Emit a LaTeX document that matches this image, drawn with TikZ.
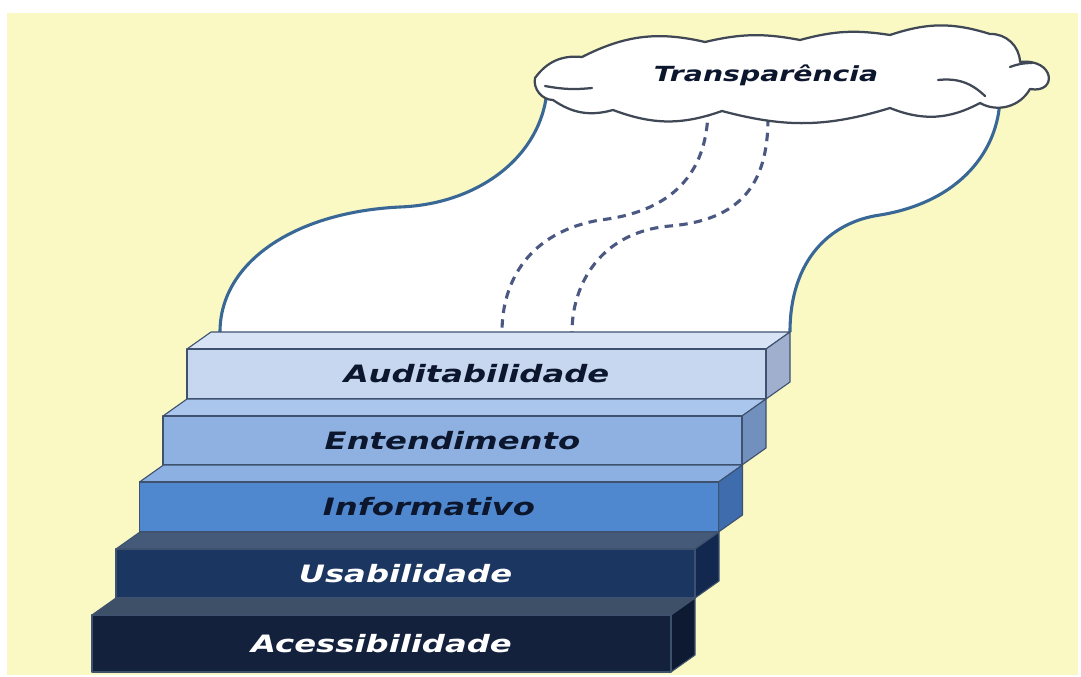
\documentclass[tikz,border=0pt]{standalone}
\usepackage{fontspec}
\setmainfont{DejaVu Sans}
\usepackage{graphicx}
\usepackage{xcolor}
\usepackage{tikz}

\definecolor{fundo}{RGB}{250,249,195}
\definecolor{contorno}{RGB}{62,82,112}
\definecolor{corfita}{RGB}{58,104,150}
\definecolor{cortracej}{RGB}{74,88,130}
\definecolor{cornuvem}{RGB}{64,72,86}
\definecolor{textoesc}{RGB}{12,22,45}
\definecolor{acessF}{RGB}{19,33,61}
\definecolor{acessT}{RGB}{62,79,104}
\definecolor{acessS}{RGB}{14,26,50}
\definecolor{usabF}{RGB}{27,54,97}
\definecolor{usabT}{RGB}{69,89,120}
\definecolor{usabS}{RGB}{18,40,78}
\definecolor{infoF}{RGB}{80,136,208}
\definecolor{infoT}{RGB}{140,176,226}
\definecolor{infoS}{RGB}{62,108,172}
\definecolor{entenF}{RGB}{143,177,225}
\definecolor{entenT}{RGB}{170,198,236}
\definecolor{entenS}{RGB}{114,144,190}
\definecolor{auditF}{RGB}{199,215,240}
\definecolor{auditT}{RGB}{216,228,246}
\definecolor{auditS}{RGB}{160,175,205}

% name, left x, front top y, front bottom y, front/top/side colours, text colour, label
\newcommand{\degrau}[9]{%
  \filldraw[face, fill=#6] (#2,#3) -- ++(24,-17) -- ++(579,0) -- ++(-24,17) -- cycle;
  \filldraw[face, fill=#7] (#2+579,#3) -- ++(24,-17) -- ++(0,#4-#3) -- ++(-24,17) -- cycle;
  \filldraw[face, fill=#5] (#2,#3) rectangle (#2+579,#4);
  \node[rotulo, text=#8] (#1) at (#2+289.5,{(#3+#4)/2}) {\scalebox{1.35}[1]{#9}};
}

\begin{document}
\begin{tikzpicture}[x=0.025cm, y=-0.025cm,
      face/.style={draw=contorno, line width=0.8pt, line join=round},
      rotulo/.style={font=\fontsize{17}{20}\selectfont\bfseries\itshape, inner sep=0pt},
      nuvem/.style={draw=cornuvem, line width=1.6pt, line join=round, line cap=round},
      fita/.style={draw=corfita, line width=2.2pt},
      tracej/.style={draw=cortracej, line width=2.2pt, dash pattern=on 6pt off 4.5pt}
  ]
    \fill[white] (0,0) rectangle (1081,677);
    \fill[fundo] (7,13) rectangle (1078,675);

    \coordinate (degE) at (220,332);
    \coordinate (degD) at (790,332);
    \coordinate (nuvE) at (547,90);
    \coordinate (nuvD) at (1000,95);
    \coordinate (t1a) at (708,108);
    \coordinate (t1b) at (502,332);
    \coordinate (t2a) at (768,118);
    \coordinate (t2b) at (572,332);

    \fill[white] (degE) .. controls (220,262) and (295,212) .. (400,207)
      .. controls (480,204) and (542,155) .. (nuvE) -- (nuvD)
      .. controls (1000,150) and (960,202) .. (880,215)
      .. controls (830,222) and (790,260) .. (degD) -- cycle;
    \draw[fita] (degE) .. controls (220,262) and (295,212) .. (400,207)
      .. controls (480,204) and (542,155) .. (nuvE);
    \draw[fita] (degD) .. controls (790,260) and (830,222) .. (880,215)
      .. controls (960,202) and (1000,150) .. (nuvD);

    \draw[tracej] (t1a) .. controls (708,175) and (670,212) .. (600,220)
      .. controls (530,232) and (502,280) .. (t1b);
    \draw[tracej] (t2a) .. controls (768,185) and (740,220) .. (670,226)
      .. controls (600,232) and (572,285) .. (t2b);

    \filldraw[nuvem, fill=white] (535,78) to[bend left=30] (582,57)
      to[bend left=20] (705,42) to[bend left=12] (800,40)
      to[bend left=12] (890,35) to[bend left=18] (990,34)
      to[bend left=45] (1020,62) .. controls (1055,58) and (1058,94) .. (1030,89)
      to[bend left=45] (980,103) to[bend left=25] (890,108)
      to[bend left=16] (722,111) to[bend left=20] (613,110)
      to[bend left=25] (553,100) to[bend left=50] (535,78) -- cycle;
    \draw[nuvem] (545,86) to[bend right=8] (592,88);
    \draw[nuvem] (938,80) to[bend left=25] (985,96);
    \draw[nuvem] (1010,67) to[bend left=10] (1032,63);
    \node[rotulo, font=\fontsize{14.8}{17}\selectfont\bfseries\itshape, text=textoesc]
      (transp) at (766,75) {\scalebox{1.36}[1]{Transparência}};

    \degrau{audit}{187}{349}{399}{auditF}{auditT}{auditS}{textoesc}{Auditabilidade}
    \degrau{entend}{163}{416}{465}{entenF}{entenT}{entenS}{textoesc}{Entendimento}
    \degrau{inform}{139.5}{482}{532}{infoF}{infoT}{infoS}{textoesc}{Informativo}
    \degrau{usab}{116}{549}{598}{usabF}{usabT}{usabS}{white}{Usabilidade}
    \degrau{acess}{92}{615}{672}{acessF}{acessT}{acessS}{white}{Acessibilidade}
  \end{tikzpicture}
\end{document}
